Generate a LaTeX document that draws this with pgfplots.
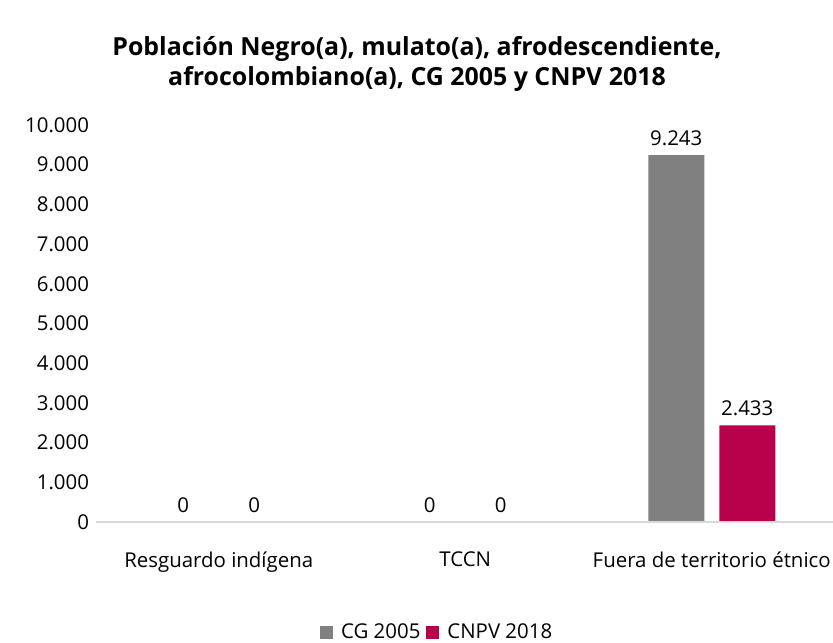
\documentclass[border=0pt]{standalone}
\usepackage{fontspec}
\setmainfont{Open Sans}
\usepackage{pgfplots}
\pgfplotsset{compat=1.18}
\definecolor{cggray}{HTML}{808080}
\definecolor{cnpvred}{HTML}{B9004B}
\definecolor{axisgray}{HTML}{D9D9D9}
\begin{document}
\begin{tikzpicture}
\path[use as bounding box] (0,0) rectangle (833bp,643bp);
\node[font=\fontsize{25}{30}\selectfont\bfseries, align=center] at (417bp,579bp)
  {Población Negro(a), mulato(a), afrodescendiente,\\afrocolombiano(a), CG 2005 y CNPV 2018};
\begin{axis}[
  at={(95.5bp,121bp)}, anchor=south west,
  scale only axis, width=739.5bp, height=397bp,
  axis on top,
  ybar=15bp, bar width=56bp,
  xmin=-0.5, xmax=2.5, ymin=0, ymax=10000,
  xtick=data,
  xticklabels={Resguardo indígena, TCCN, Fuera de territorio étnico},
  ytick={0,1000,...,10000},
  axis x line=bottom, axis y line=left,
  x axis line style={draw=axisgray, line width=1.2pt, -},
  y axis line style={draw=none},
  major tick length=0pt,
  tick label style={font=\fontsize{20.5}{24}\selectfont, text=black},
  xticklabel style={yshift=-26bp},
  yticklabel style={xshift=-3bp},
  /pgf/number format/.cd, 1000 sep={.}, assume math mode=true,
  /pgfplots/.cd,
  scaled y ticks=false,
  nodes near coords,
  nodes near coords style={font=\fontsize{20.5}{24}\selectfont, text=black, yshift=6bp,
    /pgf/number format/1000 sep={.}, /pgf/number format/assume math mode=true},
  legend columns=2,
  legend style={draw=none, at={(0.462,-0.276)}, anchor=center, inner sep=0pt,
    font=\fontsize{20.5}{24}\selectfont, column sep=4bp,
    /tikz/every odd column/.append style={column sep=6bp}},
  legend image code/.code={\fill[#1] (0bp,-7bp) rectangle (13bp,6bp);},
  ]
\addplot[fill=cggray, draw=none] coordinates {(0,0) (1,0) (2,9243)};
\addlegendentry{CG 2005}
\addplot[fill=cnpvred, draw=none] coordinates {(0,0) (1,0) (2,2433)};
\addlegendentry{CNPV 2018}
\end{axis}
\end{tikzpicture}
\end{document}
